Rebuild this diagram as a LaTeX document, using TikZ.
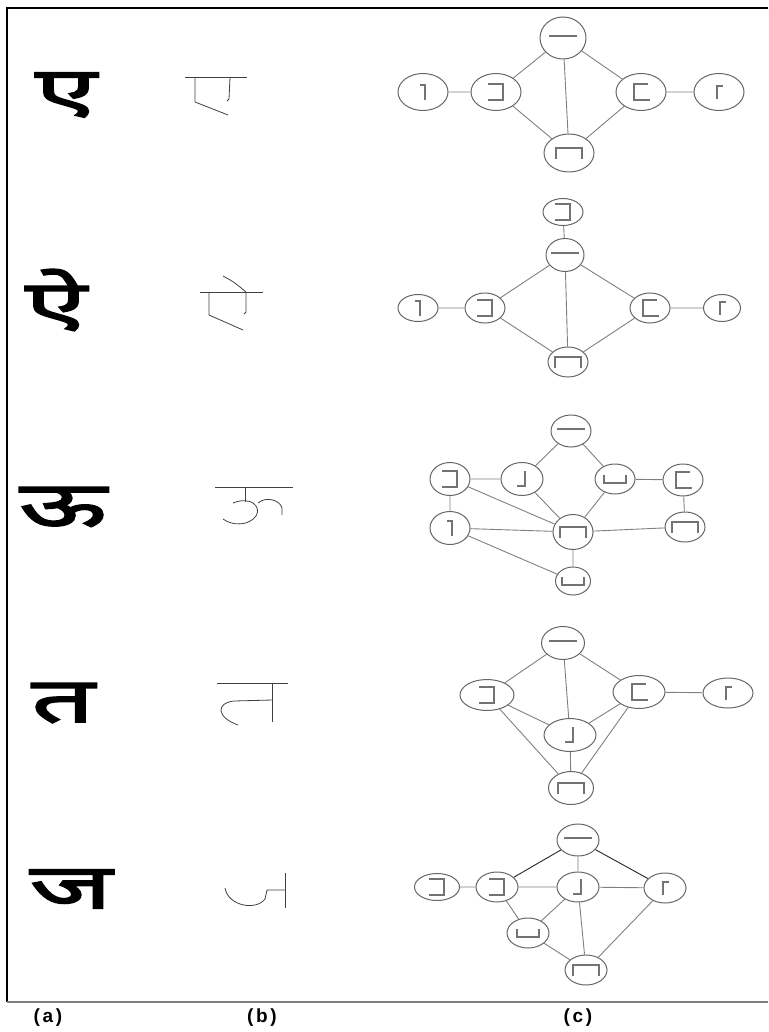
\documentclass[tikz,border=0pt]{standalone}
\usepackage{fontspec}
\setmainfont{Liberation Sans}
\newfontfamily\deva[Script=Devanagari,FakeBold=3,FakeStretch=1.8]{Noto Sans}
\usetikzlibrary{shapes.geometric}
\tikzset{
  vert/.style={ellipse,draw=black!60,line width=1pt,inner sep=0pt,minimum width=42pt,minimum height=31pt},
  edge/.style={draw=black!50,line width=.9pt},
  sym/.style={draw=black!55,line width=1.1pt},
  skel/.style={draw=black!75,line width=.8pt},
  glyph/.style={font=\deva\fontsize{62}{70}\selectfont},
  tag/.style={font=\fontsize{19}{22}\selectfont\bfseries\addfontfeature{LetterSpace=14}},
  hbar/.pic={\draw[sym] (-14,-2)--(14,-2);},
  rbrack/.pic={\draw[sym] (-8,-8)--(7,-8)--(7,8)--(-8,8);},
  lbrack/.pic={\draw[sym] (7,-8)--(-7,-8)--(-7,8)--(9,8);},
  corner/.pic={\draw[sym] (-3,-7)--(2,-7)--(2,8);},
  gamma/.pic={\draw[sym] (4,-6)--(-2,-6)--(-2,7);},
  cap/.pic={\draw[sym] (-13,6)--(-13,-5)--(13,-5)--(13,6);},
  cup/.pic={\draw[sym] (-11,-4)--(-11,4)--(11,4)--(11,-4);},
  jcorner/.pic={\draw[sym] (3,-8)--(3,7)--(-5,7);}
}
\begin{document}
\begin{tikzpicture}[x=1pt,y=-1pt,every node/.style={font=\small}]
\useasboundingbox (0,0) rectangle (768,1032);
\draw[line width=1.4pt] (768,8)--(7,8)--(7,1002);
\draw[line width=1.4pt,black!50] (7,1002)--(768,1002);
% (a)
\node[glyph] (ca1) at (66,95) {ए};
\node[glyph] (ca2) at (56,300) {ऐ};
\node[glyph] (ca3) at (63,507) {ऊ};
\node[glyph] (ca4) at (63,703) {त};
\node[glyph] (ca5) at (71,889) {ज};
% (b)
\draw[skel] (185,77)--(247,77);
\draw[skel] (195,77)--(195,102)--(228,115);
\draw[skel] (230,77)--(229,99)--(227,101);
\draw[skel] (200,292)--(263,292);
\draw[skel] (209,292)--(209,315)--(243,330);
\draw[skel] (246,292)--(246,312)--(244,314);
\draw[skel] (223,276) .. controls (234,282) .. (246,292);
\draw[skel] (215,487)--(293,487);
\draw[skel] (245,487)--(245,502);
\draw[skel] (233,503) .. controls (250,496) and (262,506) .. (256,516) .. controls (249,526) and (232,526) .. (223,519);
\draw[skel] (258,503) .. controls (266,496) and (280,500) .. (282,508)--(282,515);
\draw[skel] (217,683)--(288,683);
\draw[skel] (272,683)--(272,722);
\draw[skel] (272,700)--(234,701) .. controls (216,703) and (216,717) .. (238,725);
\draw[skel] (285,873)--(285,908);
\draw[skel] (225,888) .. controls (228,906) and (256,911) .. (265,899)--(267,890)--(285,890);
% (c)
\node[vert,minimum width=46pt,minimum height=42pt] (g1t) at (563,38) {};
\node[vert,minimum width=50pt,minimum height=37pt] (g1a) at (423,92) {};
\node[vert,minimum width=50pt,minimum height=37pt] (g1b) at (496,92) {};
\node[vert,minimum width=50pt,minimum height=37pt] (g1c) at (641,92) {};
\node[vert,minimum width=50pt,minimum height=37pt] (g1d) at (719,92) {};
\node[vert,minimum width=50pt,minimum height=38pt] (g1e) at (569,153) {};
\draw[edge] (g1t)--(g1b) (g1t)--(g1c) (g1t)--(g1e) (g1a)--(g1b) (g1b)--(g1e) (g1c)--(g1e) (g1c)--(g1d);
\pic at (g1t) {hbar}; \pic at (g1a) {corner}; \pic at (g1b) {rbrack};
\pic at (g1c) {lbrack}; \pic at (g1d) {gamma}; \pic at (g1e) {cap};
\node[vert,minimum width=40pt,minimum height=27pt] (g2u) at (563,212) {};
\node[vert,minimum width=38pt,minimum height=33pt] (g2t) at (565,255) {};
\node[vert,minimum width=40pt,minimum height=27pt] (g2a) at (418,308) {};
\node[vert,minimum width=40pt,minimum height=30pt] (g2b) at (485,308) {};
\node[vert,minimum width=40pt,minimum height=30pt] (g2c) at (650,308) {};
\node[vert,minimum width=37pt,minimum height=27pt] (g2d) at (722,308) {};
\node[vert,minimum width=40pt,minimum height=30pt] (g2e) at (568,362) {};
\draw[edge] (g2u)--(g2t) (g2t)--(g2b) (g2t)--(g2c) (g2t)--(g2e) (g2a)--(g2b) (g2b)--(g2e) (g2c)--(g2e) (g2c)--(g2d);
\pic at (g2u) {rbrack}; \pic at (g2t) {hbar}; \pic at (g2a) {corner}; \pic at (g2b) {rbrack};
\pic at (g2c) {lbrack}; \pic at (g2d) {gamma}; \pic at (g2e) {cap};
\node[vert,minimum width=40pt,minimum height=32pt] (g3t) at (571,431) {};
\node[vert,minimum width=40pt,minimum height=33pt] (g3a) at (450,479) {};
\node[vert,minimum width=42pt,minimum height=33pt] (g3b) at (522,479) {};
\node[vert,minimum width=40pt,minimum height=30pt] (g3c) at (615,479) {};
\node[vert,minimum width=40pt,minimum height=32pt] (g3d) at (683,480) {};
\node[vert,minimum width=40pt,minimum height=33pt] (g3f) at (450,528) {};
\node[vert,minimum width=40pt,minimum height=35pt] (g3e) at (573,532) {};
\node[vert,minimum width=40pt,minimum height=30pt] (g3g) at (685,527) {};
\node[vert,minimum width=35pt,minimum height=28pt] (g3h) at (573,581) {};
\draw[edge] (g3t)--(g3b) (g3t)--(g3c) (g3a)--(g3b) (g3a)--(g3f) (g3a)--(g3e) (g3b)--(g3e) (g3c)--(g3e) (g3c)--(g3d)
  (g3d)--(g3g) (g3f)--(g3e) (g3e)--(g3g) (g3e)--(g3h) (g3f)--(g3h);
\pic at (g3t) {hbar}; \pic at (g3a) {rbrack}; \pic at (g3b) {jcorner}; \pic at (g3c) {cup};
\pic at (g3d) {lbrack}; \pic at (g3f) {corner}; \pic at (g3e) {cap}; \pic at (g3g) {cap}; \pic at (g3h) {cup};
\node[vert,minimum width=43pt,minimum height=33pt] (g4t) at (563,643) {};
\node[vert,minimum width=54pt,minimum height=31pt] (g4a) at (487,695) {};
\node[vert,minimum width=52pt,minimum height=33pt] (g4c) at (639,692) {};
\node[vert,minimum width=50pt,minimum height=30pt] (g4d) at (728,693) {};
\node[vert,minimum width=52pt,minimum height=33pt] (g4b) at (570,735) {};
\node[vert,minimum width=45pt,minimum height=33pt] (g4e) at (571,788) {};
\draw[edge] (g4t)--(g4a) (g4t)--(g4b) (g4t)--(g4c) (g4a)--(g4b) (g4a)--(g4e) (g4c)--(g4b) (g4c)--(g4e) (g4c)--(g4d) (g4b)--(g4e);
\pic at (g4t) {hbar}; \pic at (g4a) {rbrack}; \pic at (g4c) {lbrack};
\pic at (g4d) {gamma}; \pic at (g4b) {jcorner}; \pic at (g4e) {cap};
\node[vert,minimum width=42pt,minimum height=32pt] (g5t) at (578,840) {};
\node[vert,minimum width=45pt,minimum height=27pt] (g5a) at (437,887) {};
\node[vert,minimum width=42pt,minimum height=30pt] (g5b) at (497,887) {};
\node[vert,minimum width=42pt,minimum height=30pt] (g5c) at (578,887) {};
\node[vert,minimum width=42pt,minimum height=30pt] (g5d) at (665,888) {};
\node[vert,minimum width=42pt,minimum height=30pt] (g5f) at (528,933) {};
\node[vert,minimum width=42pt,minimum height=30pt] (g5e) at (586,970) {};
\draw[edge,draw=black!85] (g5t)--(g5b) (g5t)--(g5d);
\draw[edge] (g5t)--(g5c) (g5a)--(g5b) (g5b)--(g5c) (g5c)--(g5d) (g5b)--(g5f) (g5c)--(g5f) (g5c)--(g5e) (g5f)--(g5e) (g5d)--(g5e);
\pic at (g5t) {hbar}; \pic at (g5a) {rbrack}; \pic at (g5b) {rbrack}; \pic at (g5c) {jcorner};
\pic at (g5d) {gamma}; \pic at (g5f) {cup}; \pic at (g5e) {cap};
\node[tag] (la) at (48,1018) {(a)};
\node[tag] (lb) at (262,1018) {(b)};
\node[tag] (lc) at (578,1018) {(c)};
\end{tikzpicture}
\end{document}
